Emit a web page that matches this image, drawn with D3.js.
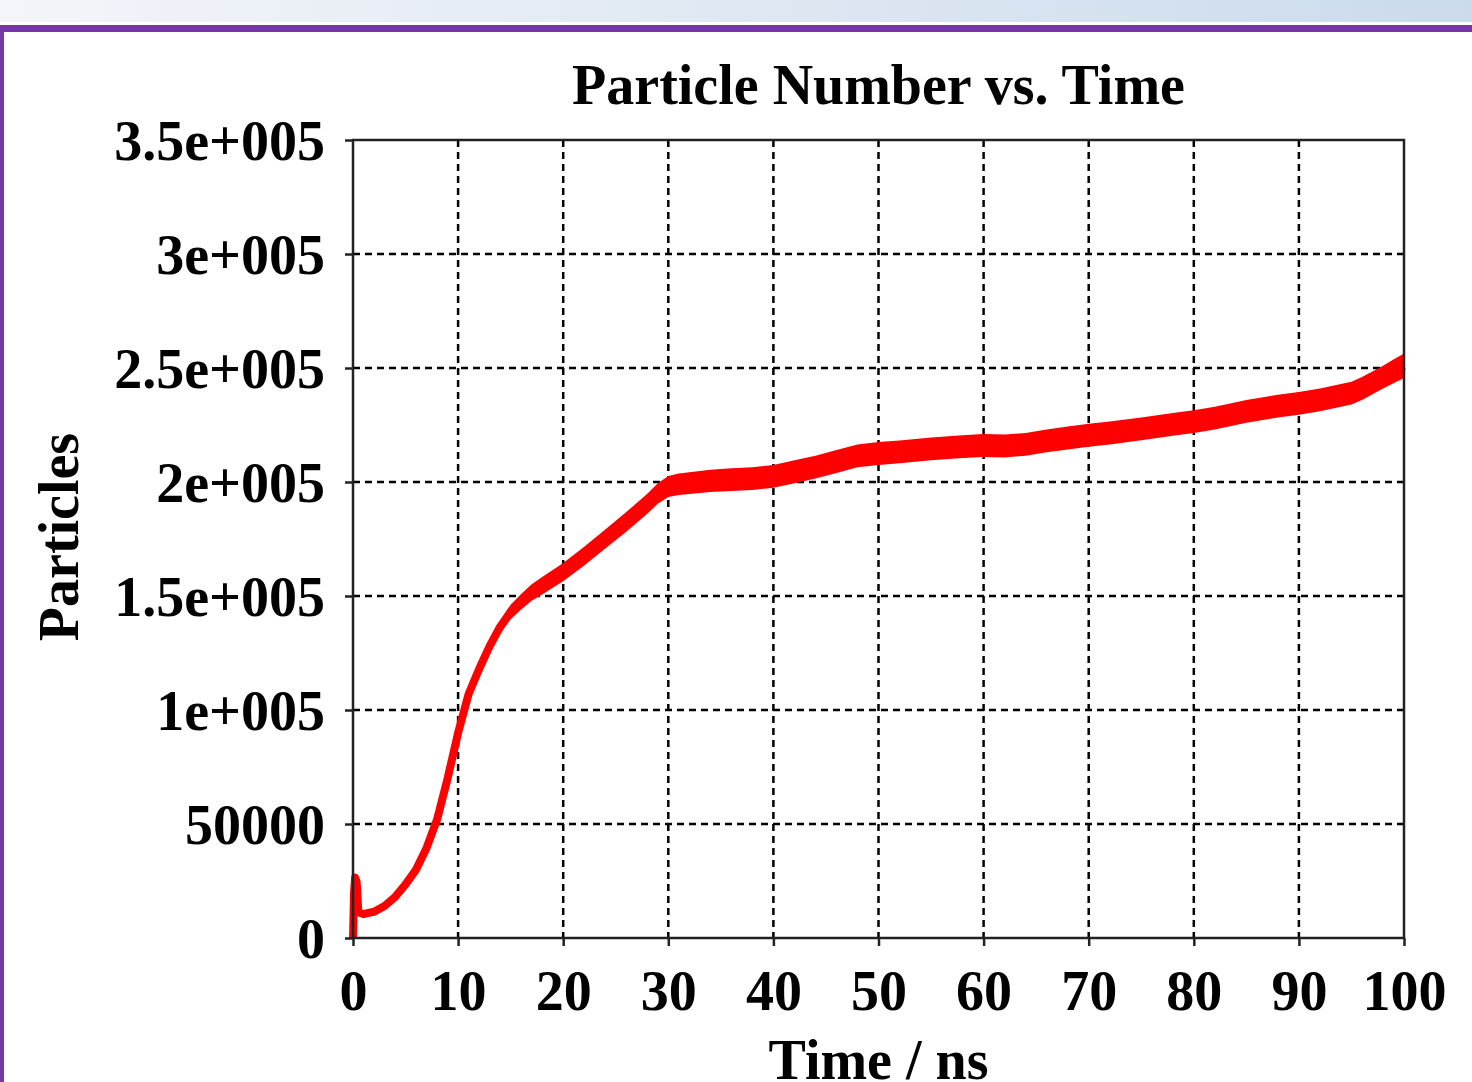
<!DOCTYPE html>
<html>
<head>
<meta charset="utf-8">
<script src="https://cdnjs.cloudflare.com/ajax/libs/d3/7.8.5/d3.min.js"></script>
<style>
    body { margin: 0; background: #fff; overflow: hidden; }
    text { font-family: "Liberation Serif", "Times New Roman", serif; font-weight: bold; fill: #000; }
</style>
</head>
<body>
<script>
// Data -----------------------------------------------------------------------
var times = [0, 0.1, 0.2, 0.35, 0.5, 0.7, 1, 1.5, 2, 3, 4, 5, 6, 7, 8, 9, 10,
    11, 12, 13, 14, 15, 16, 17, 18, 19, 20, 22, 24, 26, 28, 29, 30, 31, 32, 34,
    36, 38, 40, 42, 44, 46, 48, 50, 52, 55, 58, 60, 62, 64, 66, 68, 70, 72, 75,
    78, 80, 82, 85, 88, 90, 92, 94, 95, 96, 97, 98, 99, 100];

var particles = [0, 20000, 26500, 24500, 12000, 11000, 10500, 11000, 11500,
    14000, 18000, 23500, 30000, 39500, 52000, 70000, 90000,
    107000, 118000, 128000, 136500, 143000, 147500, 151500, 154500, 157500,
    160500, 167500, 175000, 182500, 190500, 195000, 198000, 199000, 199500,
    200500, 201000, 201500, 202500, 204500, 206500, 209000, 211500, 212500,
    213200, 214500, 215500, 216000, 215800, 216500, 218000, 219300, 220500,
    221500, 223300, 225300, 226500, 228000, 231000, 233300, 234500, 236000,
    238000, 239000, 241000, 243500, 246000, 248500, 251000];

// half width of the noise band around the curve
var spread = [0, 0, 0, 0, 0, 0, 0, 0, 0,
    300, 400, 500, 700, 900, 1100, 1400, 1700,
    2000, 2300, 2600, 2900, 3200, 3400, 3600, 3800, 3900,
    4000, 4100, 4200, 4300, 4400, 4500, 4600, 4700, 4800,
    4900, 5000, 5000, 5000, 5000, 5000, 5000, 5000, 5000,
    5000, 5000, 5000, 5000, 5000, 5000, 5000, 5000, 5000,
    5000, 5000, 5000, 5000, 5000, 5000, 5000, 5000, 5000,
    5000, 5000, 5000, 5000, 5000, 5200, 5400];

var xTicks = [0, 10, 20, 30, 40, 50, 60, 70, 80, 90, 100];
var yTicks = [0, 50000, 100000, 150000, 200000, 250000, 300000, 350000];
var yTickLabels = ["0", "50000", "1e+005", "1.5e+005", "2e+005", "2.5e+005", "3e+005", "3.5e+005"];

var series = times.map(function(t, i) {
    return { t: t, v: particles[i], s: spread[i] };
});

// Set graph margins and dimensions
var W = 1472, H = 1082;
var margin = { top: 140, left: 353 },
    width = 1051,
    height = 798;

var svg = d3.select("body").append("svg")
    .attr("width", W)
    .attr("height", H);

// Slide frame ---------------------------------------------------------------
var grad = svg.append("defs").append("linearGradient")
    .attr("id", "topband");
grad.append("stop").attr("offset", "0%").attr("stop-color", "#f3f5f9");
grad.append("stop").attr("offset", "100%").attr("stop-color", "#cbdbec");

svg.append("rect")
    .attr("x", 0).attr("y", 0)
    .attr("width", W).attr("height", 22)
    .attr("fill", "url(#topband)");
svg.append("rect")
    .attr("x", 0).attr("y", 25)
    .attr("width", W).attr("height", 7)
    .attr("fill", "#7538a6");
svg.append("rect")
    .attr("x", 0).attr("y", 25)
    .attr("width", 4).attr("height", H - 25)
    .attr("fill", "#7538a6");

// Scales --------------------------------------------------------------------
var x = d3.scaleLinear().domain([0, 100]).range([0, width]);
var y = d3.scaleLinear().domain([0, 350000]).range([height, 0]);

var g = svg.append("g")
    .attr("transform", "translate(" + margin.left + "," + margin.top + ")");

// Grid lines
g.append("g")
    .selectAll("line")
    .data(xTicks.slice(1, -1))
    .enter().append("line")
    .attr("x1", x).attr("x2", x)
    .attr("y1", 0).attr("y2", height)
    .attr("stroke", "#000")
    .attr("stroke-width", 2.5)
    .attr("stroke-dasharray", "7,5");

g.append("g")
    .selectAll("line")
    .data(yTicks.slice(1, -1))
    .enter().append("line")
    .attr("x1", 0).attr("x2", width)
    .attr("y1", y).attr("y2", y)
    .attr("stroke", "#000")
    .attr("stroke-width", 2.5)
    .attr("stroke-dasharray", "7,5");

// Curve ---------------------------------------------------------------------
g.append("path")
    .datum(series)
    .attr("fill", "#ff0000")
    .attr("d", d3.area()
        .x(function(d) { return x(d.t); })
        .y0(function(d) { return y(d.v - d.s); })
        .y1(function(d) { return y(d.v + d.s); }));

g.append("path")
    .datum(series)
    .attr("fill", "none")
    .attr("stroke", "#ff0000")
    .attr("stroke-width", 8)
    .attr("stroke-linejoin", "round")
    .attr("d", d3.line()
        .x(function(d) { return x(d.t); })
        .y(function(d) { return y(d.v); }));

// Frame box
g.append("rect")
    .attr("x", 0).attr("y", 0)
    .attr("width", width).attr("height", height)
    .attr("fill", "none")
    .attr("stroke", "#222")
    .attr("stroke-width", 2.5);

// Axes ----------------------------------------------------------------------
var xAxis = g.append("g")
    .attr("transform", "translate(0," + height + ")")
    .call(d3.axisBottom(x)
        .tickValues(xTicks)
        .tickSize(8)
        .tickPadding(24)
        .tickFormat(d3.format("d")));

var yAxis = g.append("g")
    .call(d3.axisLeft(y)
        .tickValues(yTicks)
        .tickSize(8)
        .tickPadding(20)
        .tickFormat(function(d, i) { return yTickLabels[i]; }));

[xAxis, yAxis].forEach(function(a) {
    a.select(".domain").remove();
    a.selectAll(".tick line").attr("stroke", "#222").attr("stroke-width", 2.5);
    a.selectAll(".tick text")
        .attr("fill", "#000")
        .style("font-family", "'Liberation Serif', 'Times New Roman', serif")
        .style("font-weight", "bold")
        .style("font-size", "56px");
});
yAxis.selectAll(".tick text").attr("dy", "0.34em");

// Titles --------------------------------------------------------------------
svg.append("text")
    .attr("x", margin.left + width / 2)
    .attr("y", 104)
    .attr("text-anchor", "middle")
    .style("font-size", "56px")
    .text("Particle Number vs. Time");

svg.append("text")
    .attr("x", margin.left + width / 2)
    .attr("y", 1079)
    .attr("text-anchor", "middle")
    .style("font-size", "56px")
    .text("Time / ns");

svg.append("text")
    .attr("transform", "translate(78,537) rotate(-90)")
    .attr("text-anchor", "middle")
    .style("font-size", "56px")
    .text("Particles");
</script>
</body>
</html>
